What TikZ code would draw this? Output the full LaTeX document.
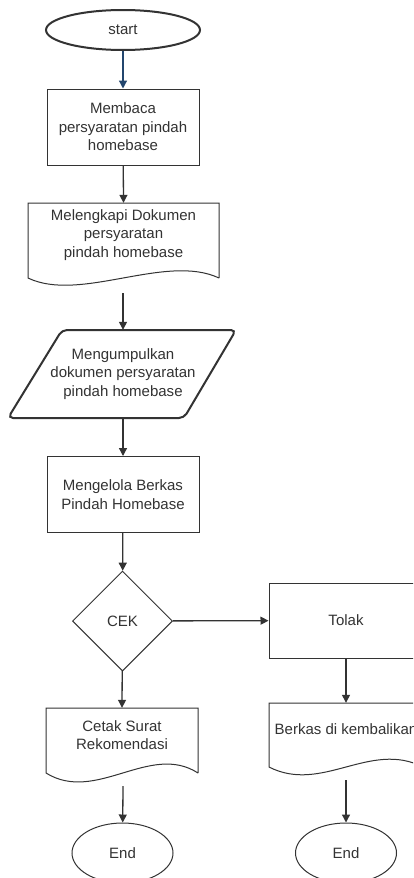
\documentclass[tikz,border=0pt]{standalone}
\usepackage{fontspec}
\setmainfont{Liberation Sans}
\usetikzlibrary{shapes.geometric, arrows.meta, positioning}
\definecolor{ln}{HTML}{333333}
\definecolor{bl}{HTML}{23466E}
\tikzset{
  txt/.style={text=ln, align=center, font=\fontsize{15}{18.5}\selectfont, inner sep=0pt},
  proses/.style={txt, draw=ln, line width=1pt, rectangle, minimum width=152pt, minimum height=76pt},
  term/.style={txt, draw=ln, line width=1pt, ellipse, minimum width=101pt, minimum height=60pt},
  doc/.style={txt, rectangle},
  wave/.style={draw=ln, line width=1pt},
  panah/.style={->, draw=ln, line width=1.3pt}
}
\begin{document}
\begin{tikzpicture}[x=1pt, y=-1pt, >={Triangle[length=8pt,width=8pt]}]
\useasboundingbox (0,0) rectangle (413,878);
\fill[white] (0,0) rectangle (413,878);
\clip (0,0) rectangle (413,878);

\node[term, line width=2pt, minimum width=154pt, minimum height=40pt] (start) at (123,30) {start};
\node[proses] (baca) at (123,127) {Membaca\\persyaratan pindah\\homebase};

\draw[wave] (219,278) -- (219,203) -- (28,203) -- (28,278)
  .. controls (80,303) and (166,253) .. (219,278);
\node[doc, minimum width=191pt, minimum height=64pt] (lengkap) at (123.5,235) {Melengkapi Dokumen\\persyaratan\\pindah homebase};
\coordinate (lengkapw) at (123,293);

\draw[line width=2pt, draw=ln, rounded corners=5pt] (62,330) -- (236,330) -- (184,418) -- (8,418) -- cycle;
\node[doc, minimum width=172pt, minimum height=88pt] (kumpul) at (123,374) {Mengumpulkan\\dokumen persyaratan\\pindah homebase};

\node[proses] (kelola) at (123,494.5) {Mengelola Berkas\\Pindah Homebase};
\node[txt, draw=ln, line width=1pt, diamond, minimum size=100pt] (cek) at (122.5,621) {CEK};
\node[proses, minimum width=154pt, minimum height=75pt] (tolak) at (346,620.5) {Tolak};

\draw[wave] (198,773) -- (198,708) -- (46,708) -- (46,773)
  .. controls (96,804) and (150,742) .. (198,773);
\node[doc, minimum width=152pt, minimum height=40pt] (cetak) at (122,728) {};
\node[txt] at (122,735) {Cetak Surat\\Rekomendasi};
\coordinate (cetakw) at (123,786);

\draw[wave] (423,767) -- (423,703) -- (269,703) -- (269,767)
  .. controls (322,794) and (370,740) .. (423,767);
\node[doc, minimum width=154pt, minimum height=40pt] (kembali) at (346,723) {};
\node[txt] at (346,729) {Berkas di kembalikan};
\coordinate (kembaliw) at (346,780);

\node[term] (endA) at (122.5,853) {End};
\node[term] (endB) at (346,853) {End};

\draw[panah, draw=bl] (start) -- (baca);
\draw[panah] (baca) -- (lengkap.north);
\draw[panah] (lengkapw) -- (kumpul.north);
\draw[panah] (kumpul.south) -- (kelola);
\draw[panah] (kelola) -- (cek);
\draw[panah] (cek) -- (tolak);
\draw[panah] (cek) -- (cetak.north);
\draw[panah] (tolak) -- (kembali.north);
\draw[panah] (cetakw) -- (endA);
\draw[panah] (kembaliw) -- (endB);
\end{tikzpicture}
\end{document}
